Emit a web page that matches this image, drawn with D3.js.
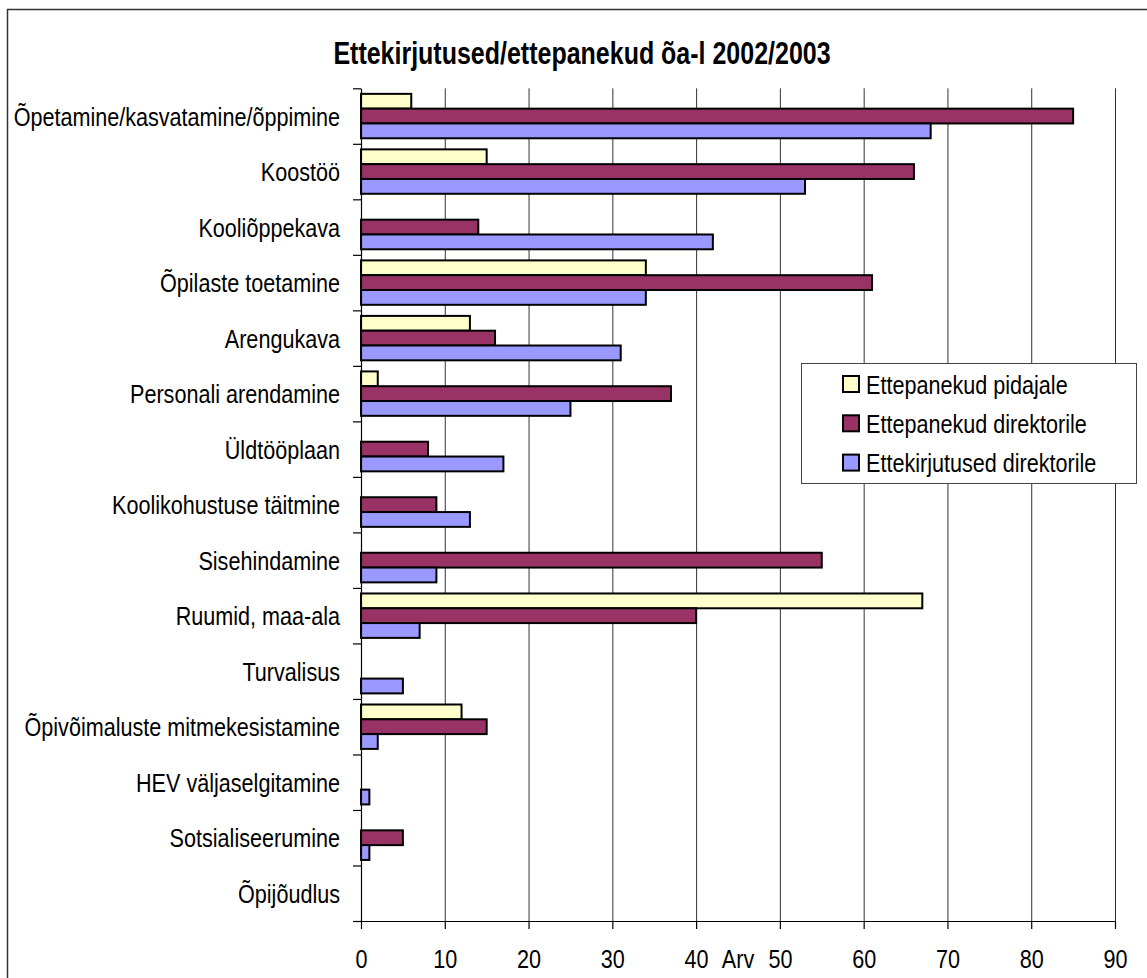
<!DOCTYPE html>
<html>
<head>
<meta charset="utf-8">
<script src="https://cdn.jsdelivr.net/npm/d3@7"></script>
<style>
  html, body { margin: 0; padding: 0; background: #fff; }
  svg { display: block; }
  text { font-family: "Liberation Sans", Arial, sans-serif; fill: #000; }
</style>
</head>
<body>
<svg id="chart" width="1147" height="978"></svg>
<script>
const title = "Ettekirjutused/ettepanekud õa-l 2002/2003";
const categories = [
  "Õpetamine/kasvatamine/õppimine",
  "Koostöö",
  "Kooliõppekava",
  "Õpilaste toetamine",
  "Arengukava",
  "Personali arendamine",
  "Üldtööplaan",
  "Koolikohustuse täitmine",
  "Sisehindamine",
  "Ruumid, maa-ala",
  "Turvalisus",
  "Õpivõimaluste mitmekesistamine",
  "HEV väljaselgitamine",
  "Sotsialiseerumine",
  "Õpijõudlus"
];
const seriesNames = ["Ettepanekud pidajale", "Ettepanekud direktorile", "Ettekirjutused direktorile"];
const pidajale       = [6, 15, 0, 34, 13, 2, 0, 0, 0, 67, 0, 12, 0, 0, 0];
const direktorile    = [85, 66, 14, 61, 16, 37, 8, 9, 55, 40, 0, 15, 0, 5, 0];
const ettekirjutused = [68, 53, 42, 34, 31, 25, 17, 13, 9, 7, 5, 2, 1, 1, 0];
const seriesColors = ["#FFFFCC", "#993366", "#9999FF"];
const xTicks = [0, 10, 20, 30, 40, 50, 60, 70, 80, 90];
const xAxisTitle = "Arv";

const seriesValues = [pidajale, direktorile, ettekirjutused];
const svg = d3.select("#chart");
const FS = 21.6, SY = 1.22;
const stretch = (tx, ty) => `translate(${tx},${ty}) scale(1,${SY})`;

const pL = 361, pR = 1115, pT = 88.3, pB = 921;

// outer border
svg.append("rect").attr("x", 7.5).attr("y", 9.5).attr("width", 1200).attr("height", 1100)
  .attr("fill", "none").attr("stroke", "#333").attr("stroke-width", 1.5);

const x = d3.scaleLinear().domain([0, 90]).range([pL, pR]);
const y = d3.scaleBand().domain(categories).range([pT, pB]).paddingInner(0).paddingOuter(0);
const ySub = d3.scaleBand().domain(d3.range(seriesNames.length)).range([y.bandwidth() * 0.1, y.bandwidth() * 0.9]);
const yIdx = d3.scaleLinear().domain([0, categories.length]).range([pT, pB]);

// gridlines
const grid = svg.append("g").attr("transform", `translate(0,${pB})`)
  .call(d3.axisBottom(x).tickValues(xTicks.slice(1)).tickSize(-(pB - pT)).tickFormat(""));
grid.select(".domain").remove();
grid.selectAll("line").attr("stroke", "#333").attr("stroke-width", 1);

// bars
const rows = categories.map((c, i) => ({ c, vals: seriesValues.map(s => s[i]) }));
const g = svg.append("g");
rows.forEach(r => {
  r.vals.forEach((v, si) => {
    if (!v) return;
    g.append("rect")
      .attr("x", x(0))
      .attr("y", y(r.c) + ySub(si))
      .attr("width", x(v) - x(0))
      .attr("height", ySub.bandwidth())
      .attr("fill", seriesColors[si])
      .attr("stroke", "#000")
      .attr("stroke-width", 2);
  });
});

// y axis (ticks at band boundaries)
const yAx = svg.append("g").attr("transform", `translate(${pL},0)`)
  .call(d3.axisLeft(yIdx).ticks(categories.length).tickSize(8).tickSizeOuter(0).tickFormat(""));
yAx.selectAll("line,path").attr("stroke", "#000").attr("stroke-width", 1.2);

// y labels
const yLab = svg.append("g").attr("transform", `translate(${pL},0)`)
  .call(d3.axisLeft(y).tickSize(0).tickPadding(21));
yLab.select(".domain").remove();
yLab.selectAll("text")
  .attr("x", null).attr("dy", "0.36em")
  .attr("transform", stretch(-21, 0))
  .attr("text-anchor", "end")
  .style("font-size", FS + "px")
  .style("font-family", '"Liberation Sans", Arial, sans-serif');

// x axis
const xAx = svg.append("g").attr("transform", `translate(0,${pB})`)
  .call(d3.axisBottom(x).tickValues(xTicks).tickSize(8).tickSizeOuter(0));
xAx.selectAll("line,path").attr("stroke", "#000").attr("stroke-width", 1.2);
xAx.selectAll("text")
  .attr("y", null).attr("dy", null)
  .attr("transform", stretch(0, 47))
  .style("font-size", FS + "px")
  .style("font-family", '"Liberation Sans", Arial, sans-serif');

svg.append("text")
  .attr("transform", stretch((pL + pR) / 2, pB + 47))
  .attr("text-anchor", "middle")
  .style("font-size", FS + "px")
  .text(xAxisTitle);

// title
svg.append("text")
  .attr("transform", stretch(582, 64))
  .attr("text-anchor", "middle")
  .style("font-size", "25px").style("font-weight", "bold")
  .text(title);

// legend
const lg = svg.append("g").attr("transform", "translate(801,363)");
lg.append("rect").attr("x", 0.5).attr("y", 0.5).attr("width", 335).attr("height", 120)
  .attr("fill", "#fff").attr("stroke", "#444").attr("stroke-width", 1);
seriesNames.forEach((n, i) => {
  const cy = 21 + i * 39.3;
  lg.append("rect").attr("x", 42).attr("y", cy - 8).attr("width", 16).attr("height", 16)
    .attr("fill", seriesColors[i]).attr("stroke", "#000").attr("stroke-width", 2);
  lg.append("text").attr("transform", stretch(65, cy))
    .attr("dy", "0.36em").style("font-size", FS + "px").text(n);
});
</script>
</body>
</html>
